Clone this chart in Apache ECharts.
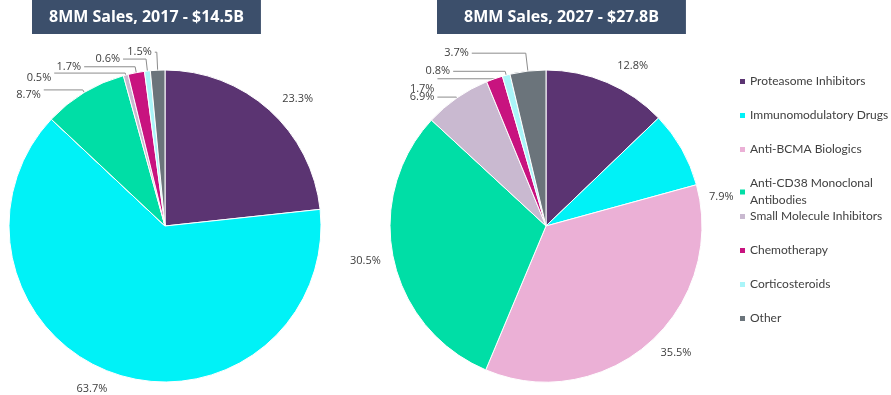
<!DOCTYPE html>
<html><head><meta charset="utf-8">
<script src="https://cdn.jsdelivr.net/npm/echarts@6/dist/echarts.min.js"></script>
<style>html,body{margin:0;padding:0;background:#fff}#c{width:891px;height:395px}</style>
</head><body><div id="c"></div>
<script>
const categories = ['Proteasome Inhibitors','Immunomodulatory Drugs','Anti-BCMA Biologics','Anti-CD38 Monoclonal\nAntibodies','Small Molecule Inhibitors','Chemotherapy','Corticosteroids','Other'];
const colors = ['#5B3472','#00F2F7','#EBB0D6','#00DEA6','#C9B9D0','#C8137F','#AAF5F9','#6B747B'];
const sales2017 = [23.3, 63.7, 0, 8.7, 0.5, 1.7, 0.6, 1.5];
const sales2027 = [12.8, 7.9, 35.5, 30.5, 6.9, 1.7, 0.8, 3.7];
const titles = ['8MM Sales, 2017 - $14.5B', '8MM Sales, 2027 - $27.8B'];

// label-line styling per slice (radial length, horizontal length, line visible, vertical nudge)
const lineStyle2017 = [[15,0,false,0],[16,0,false,0],[0,0,false,0],[3,39,true,5],[2,71,true,5],[6,51,true,0],[12,23,true,0],[18,2,true,0]];
const lineStyle2027 = [[18,0,false,0],[28,0,false,62],[13,0,false,0],[10,0,false,0],[1,19,true,0],[0,57,true,10],[4,52,true,0],[18,54,true,0]];

const FONT = 'Open Sans';
function mkData(vals, ls){
  return vals.map((v,i)=>({
    name: categories[i], value: v,
    itemStyle:{color: colors[i]},
    label:{show: v>0},
    labelLine:{show: ls[i][2], length: ls[i][0], length2: ls[i][1]}
  }));
}
function mkSeries(vals, ls, cx){
  return {
    type:'pie', radius: 156, center:[cx, 226], startAngle:90, clockwise:true,
    data: mkData(vals, ls), avoidLabelOverlap:false, animation:false,
    itemStyle:{borderColor:'#fff', borderWidth:1},
    label:{formatter: p=>p.value.toFixed(1)+'%', fontFamily:FONT, fontSize:11, color:'#404040', distanceToLabelLine:3, overflow:'none'},
    labelLine:{lineStyle:{color:'#8C8C8C', width:1}},
    labelLayout: p => (ls[p.dataIndex][3] ? {dy: ls[p.dataIndex][3]} : {}),
    emphasis:{disabled:true}
  };
}
const chart = echarts.init(document.getElementById('c'));
const legendText = {fontFamily:'Lato', fontSize:12, color:'#404040', lineHeight:17, padding:[0,0,0,-1]};
chart.setOption({
  backgroundColor:'#fff',
  title:[
    {text:titles[0], left:32, top:0, backgroundColor:'#3C4F6B', padding:[8,17,8,17],
     textStyle:{color:'#fff', fontFamily:FONT, fontSize:16, lineHeight:18, fontWeight:'bold'}},
    {text:titles[1], left:437, top:0, backgroundColor:'#3C4F6B', padding:[8,27,8,27],
     textStyle:{color:'#fff', fontFamily:FONT, fontSize:16, lineHeight:18, fontWeight:'bold'}}
  ],
  legend:[
    {orient:'vertical', left:733, top:68, itemWidth:7, itemHeight:7, icon:'rect', itemGap:17,
     data:categories.slice(0,4), selectedMode:false, textStyle:legendText},
    {orient:'vertical', left:733, top:203, itemWidth:7, itemHeight:7, icon:'rect', itemGap:17,
     data:categories.slice(4), selectedMode:false, textStyle:legendText}
  ],
  series:[mkSeries(sales2017, lineStyle2017, 165), mkSeries(sales2027, lineStyle2027, 546)]
});
</script></body></html>
